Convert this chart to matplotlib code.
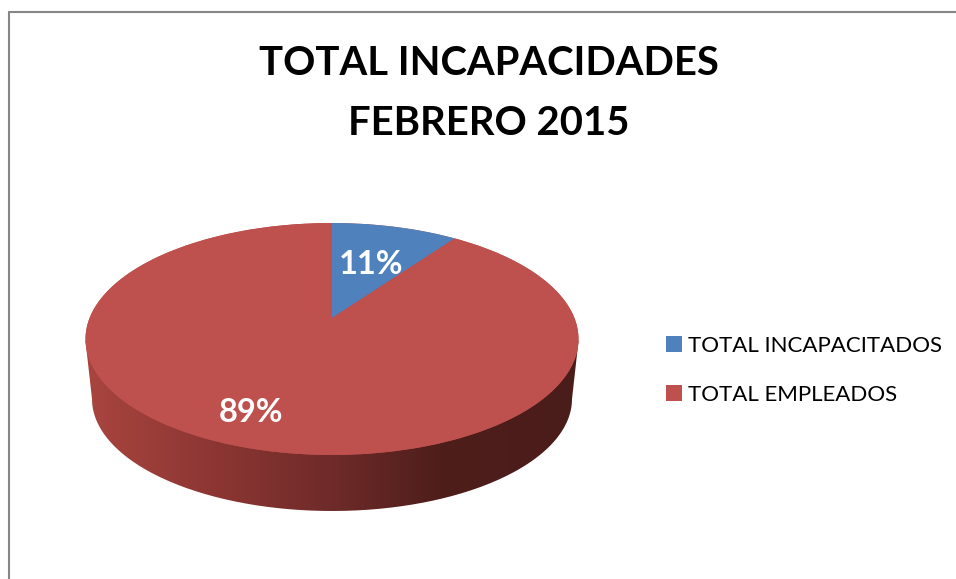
import numpy as np
import matplotlib
matplotlib.use('Agg')
import matplotlib.pyplot as plt
from matplotlib.patches import Ellipse, PathPatch, Patch
from matplotlib.path import Path
from matplotlib.colors import LinearSegmentedColormap

categories = ['TOTAL INCAPACITADOS', 'TOTAL EMPLEADOS']
values = [11, 89]
colors = ['#4F81BD', '#BE504D']
title = 'TOTAL INCAPACIDADES\nFEBRERO 2015'

W, H = 956, 579
plt.rcParams['font.family'] = ['Lato', 'DejaVu Sans']

def fx(px):
    return px / W

def fy(py):
    return 1 - py / H

fig = plt.figure(figsize=(W / 100, H / 100), dpi=100, facecolor='white')

# background axes works in reference pixels, y pointing down
ax = fig.add_axes([0, 0, 1, 1], zorder=0)
ax.set_xlim(0, W)
ax.set_ylim(H, 0)
ax.axis('off')
ax.plot([9, 9, W], [H, 12, 12], color='#868686', lw=1.5, solid_joinstyle='miter')

# side wall of the fake 3d pie
t = np.linspace(np.pi, 0, 200)
wall_x = np.r_[85.5, 332 + 240 * np.cos(t), 578.5]
wall_y = np.r_[341, 399 + 112 * np.sin(t), 341]
wall = PathPatch(Path(np.c_[wall_x, wall_y]), fc='none', ec='none')
ax.add_patch(wall)
shade = LinearSegmentedColormap.from_list(
    'shade', [(0, '#A9453F'), (0.28, '#8A3532'), (0.5, '#6E2B29'), (0.72, '#4E1E1B'), (1, '#4A1C1A')])
img = ax.imshow(np.linspace(0, 1, 256)[None, :], cmap=shade, extent=[85, 579, 520, 330], aspect='auto')
img.set_clip_path(wall)
ax.set_xlim(0, W)
ax.set_ylim(H, 0)

# top face, the wedges get clipped to it
top = Ellipse((332, 339), 493, 232, fc=colors[1], ec='none')
ax.add_patch(top)
a = np.linspace(0, 2 * np.pi, 400)
top_path = Path(np.c_[332 + 246.5 * np.cos(a), 339 + 116 * np.sin(a)])

# pie axes is centred on the apex, which sits above the ellipse centre
xu, yu = 246, 132
pie_ax = fig.add_axes([fx(332 - 2 * xu), fy(318 + 2 * yu), 4 * xu / W, 4 * yu / H], zorder=1)
wedges, _ = pie_ax.pie(values, colors=colors, startangle=90, counterclock=False, radius=1.6)
pie_ax.set_aspect('auto')
pie_ax.set_xlim(-2, 2)
pie_ax.set_ylim(-2, 2)
for w in wedges:
    w.set_edgecolor('none')
    w.set_clip_on(True)
    w.set_clip_path(top_path, ax.transData)

fig.text(fx(489), fy(93.5), title, ha='center', va='center', fontsize=28.8, fontweight='bold',
         color='black', linespacing=1.77)

label_pos = [(371, 265), (251, 412)]
for v, (x, y) in zip(values, label_pos):
    fig.text(fx(x), fy(y), '%d%%' % v, ha='center', va='center', fontsize=23.5, fontweight='bold', color='white')

handles = [Patch(fc=c, ec='none') for c in colors]
leg = fig.legend(handles, categories, loc='upper left', bbox_to_anchor=(fx(666), fy(336)),
                 bbox_transform=fig.transFigure, frameon=False, fontsize=16, borderpad=0, borderaxespad=0,
                 handlelength=0.7, handleheight=0.7, handletextpad=0.3, labelspacing=1.3, labelcolor='black')

fig.savefig('out.png', dpi=100, facecolor='white')
